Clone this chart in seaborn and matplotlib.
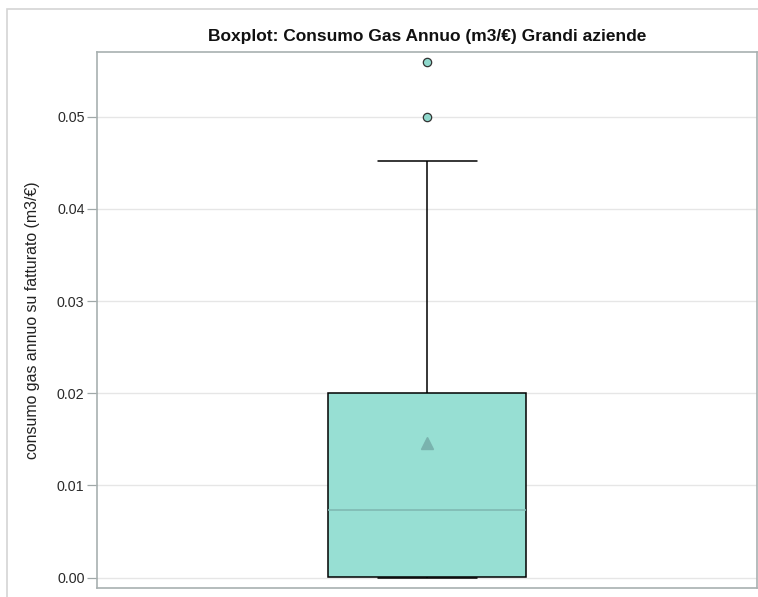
import matplotlib
matplotlib.use("Agg")
import matplotlib.pyplot as plt
from matplotlib.patches import Rectangle
import seaborn as sns
import pandas as pd

# gas consumption per euro of revenue, large companies
consumo_gas = [
    0.0000, 0.0000, 0.0000, 0.0001, 0.0001, 0.0001,
    0.0008, 0.0020, 0.0035, 0.0052, 0.0073,
    0.0095, 0.0120, 0.0150, 0.0178, 0.0200,
    0.0270, 0.0350, 0.0452, 0.0500, 0.0559,
]
y_ticks = [0.00, 0.01, 0.02, 0.03, 0.04, 0.05]

TITLE = "Boxplot: Consumo Gas Annuo (m3/€) Grandi aziende"
YLABEL = "consumo gas annuo su fatturato (m3/€)"

df = pd.DataFrame({"consumo": consumo_gas})

sns.set_style("white")
plt.rcParams["font.family"] = ["Liberation Sans", "DejaVu Sans"]

fig = plt.figure(figsize=(7.58, 5.97), dpi=100)
ax = fig.add_axes([97 / 758, 1 - 588 / 597, 660 / 758, 536 / 597])

fill = "#97dfd3"
sns.boxplot(
    data=df, y="consumo", ax=ax, width=0.3, color=fill, saturation=1,
    linecolor="black", linewidth=1.1, whis=1.5,
    showmeans=True,
    meanprops=dict(marker="^", markerfacecolor="#7ab3ae", markeredgecolor="#7ab3ae", markersize=8),
    medianprops=dict(color="#7fb9b2", linewidth=1.2),
    flierprops=dict(marker="o", markerfacecolor="#8fd8cc", markeredgecolor="#333333",
                    markersize=6, markeredgewidth=0.9),
)

ax.set_ylim(-0.00112, 0.05702)
ax.set_xlim(-0.5, 0.5)
ax.set_yticks(y_ticks)
ax.set_yticklabels([f"{t:.2f}" for t in y_ticks])
ax.set_xticks([])
ax.set_xlabel("")
ax.set_ylabel(YLABEL, fontsize=11.4, color="#222222", labelpad=12)
ax.set_title(TITLE, fontsize=12.5, fontweight="bold", pad=8, color="#111111")

ax.yaxis.grid(True, color="#e6e6e6", linewidth=1)
ax.set_axisbelow(True)
ax.tick_params(axis="y", length=7, width=0.9, color="#a0a8a8", labelsize=10.3,
               labelcolor="#2a2a2a", pad=2, left=True)
for sp in ax.spines.values():
    sp.set_color("#a8b0b0")
    sp.set_linewidth(1.2)

# outer frame of the graph area
fig.patches.append(Rectangle((7 / 758, -0.1), 2, 1 - 9 / 597 + 0.1, fill=False,
                             edgecolor="#d4d4d4", linewidth=1.2,
                             transform=fig.transFigure, figure=fig))

fig.savefig("out.png", dpi=100)
